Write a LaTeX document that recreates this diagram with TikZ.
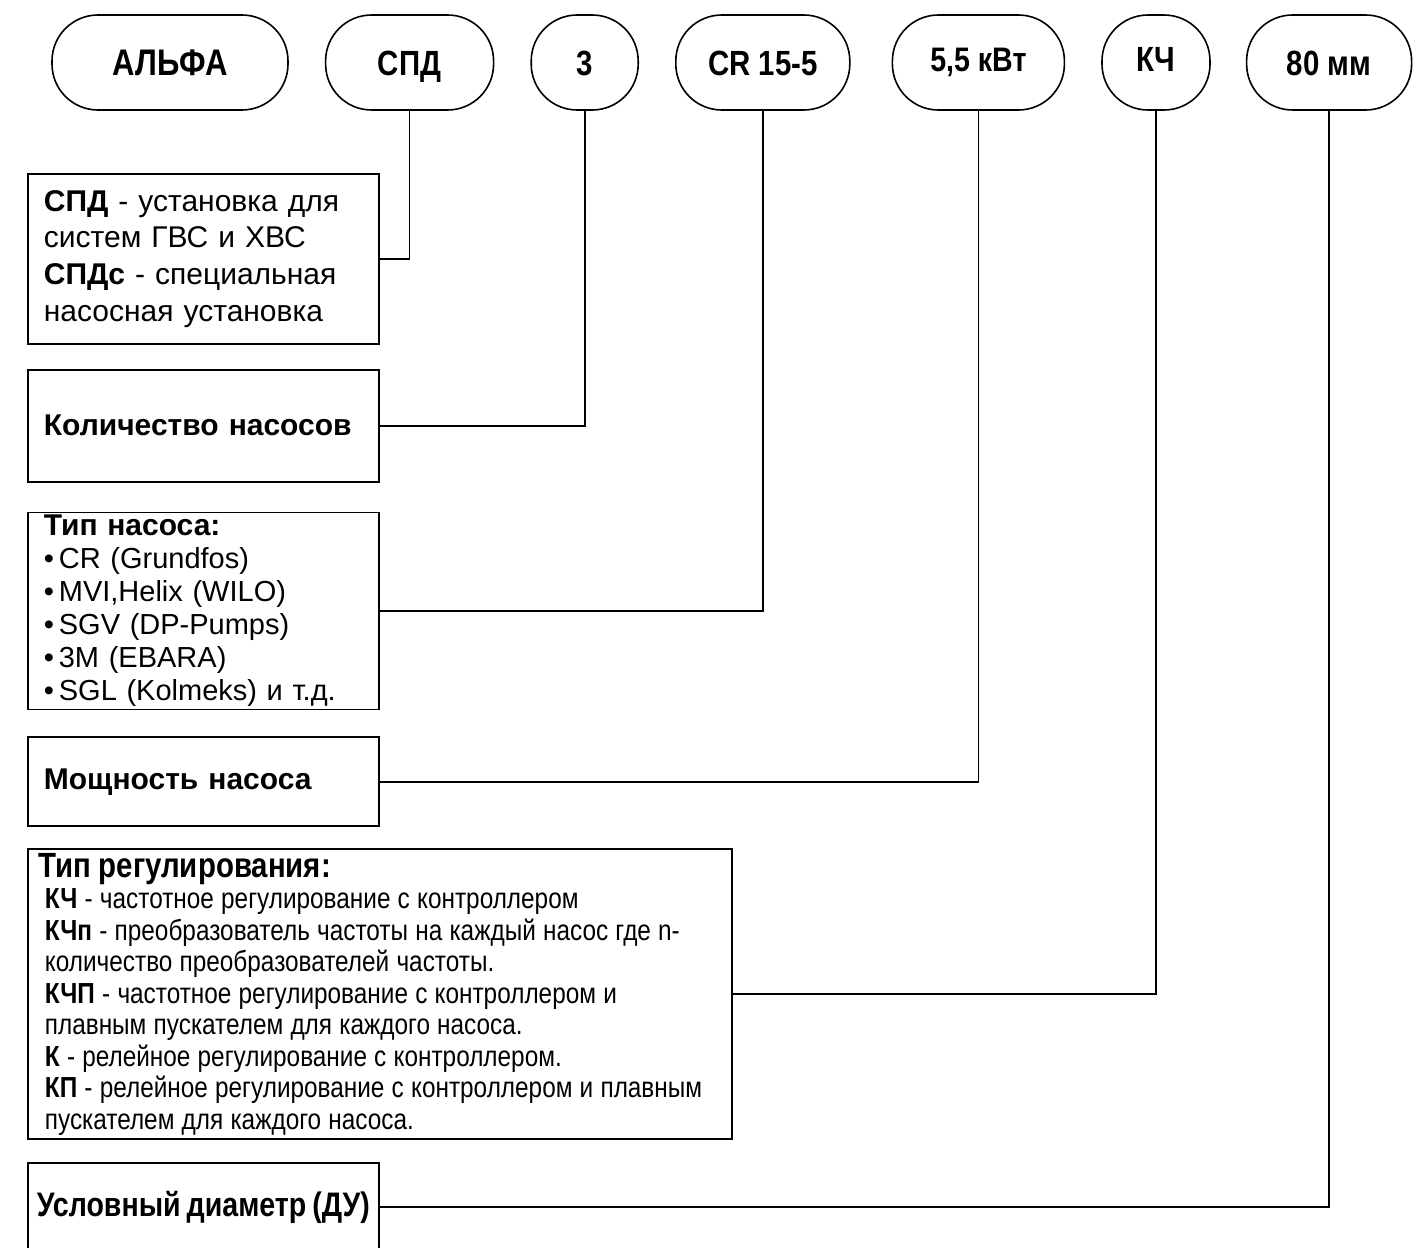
\documentclass[tikz,border=0pt]{standalone}
\usepackage{fontspec}
\setmainfont{Liberation Sans}
\newfontfamily\narrowfont[FakeStretch=0.84]{Liberation Sans}
\newcommand\regspace{\spaceskip=3.6pt plus 1pt minus 0.5pt\relax}
\newcommand\duspace{\spaceskip=3pt\relax}
\usetikzlibrary{positioning}

\begin{document}
\begin{tikzpicture}[
    x=0.5pt, y=-0.5pt,
    node distance=18pt and 18pt,
    oval/.style={draw, line width=0.8pt, rounded corners=23pt, minimum height=47.5pt,
                 inner sep=0pt, text height=12.6pt, text depth=0pt,
                 font=\narrowfont\bfseries\fontsize{17.5pt}{20pt}\selectfont},
    desc/.style={draw, line width=0.9pt, text width=159.5pt, inner xsep=8pt, align=left,
                 font=\fontsize{15pt}{18.3pt}\selectfont},
    head/.style={desc, font=\bfseries\fontsize{15pt}{18pt}\selectfont},
    link/.style={line width=0.8pt}]
\useasboundingbox (0,0) rectangle (1422,1247);
% top row of code parts
\node[oval, minimum width=118pt, font=\narrowfont\bfseries\fontsize{18.5pt}{20pt}\selectfont] (alfa) at (170,62.5) {АЛЬФА};
\node[oval, minimum width=84pt, right=of alfa] (spd) {СПД};
\node[oval, minimum width=53.5pt, right=of spd] (n) {3};
\node[oval, minimum width=87pt, right=of n] (cr) {CR 15-5};
\node[oval, minimum width=86pt, right=20.5pt of cr, text depth=4pt,
      font=\narrowfont\bfseries\fontsize{17pt}{18pt}\selectfont] (kw) {5,5 кВт};
\node[oval, minimum width=54pt, right=of kw, text depth=3.5pt] (kch) {КЧ};
\node[oval, minimum width=82.5pt, right=17.5pt of kch] (dn) {80 мм};
% explanation boxes
\node[desc, anchor=north west, minimum height=85pt] (spdbox) at (27,173)
  {\textbf{СПД} - установка для\\систем ГВС и ХВС\\\textbf{СПДс} - специальная\\насосная установка};
\node[head, below=12pt of spdbox.south west, anchor=north west, minimum height=56pt] (qty)
  {Количество насосов};
\node[desc, below=14.5pt of qty.south west, anchor=north west, minimum height=98.5pt,
      inner ysep=0pt, font=\fontsize{14.5pt}{16.5pt}\selectfont] (pump)
  {{\bfseries\fontsize{15pt}{16.5pt}\selectfont Тип насоса:}\\
   •\,CR (Grundfos)\\•\,MVI,Helix (WILO)\\•\,SGV (DP-Pumps)\\•\,3M (EBARA)\\•\,SGL (Kolmeks) и т.д.};
\node[head, below=13pt of pump.south west, anchor=north west, minimum height=44.5pt] (pow)
  {Мощность насоса};
\node[desc, below=10.5pt of pow.south west, anchor=north west, minimum height=145pt,
      text width=341pt, inner xsep=5.5pt, inner ysep=0pt,
      font=\narrowfont\fontsize{14.5pt}{15.75pt}\selectfont] (reg)
  {\regspace{\bfseries\fontsize{17.5pt}{15.75pt}\selectfont Тип регулирования:}\\
   \hspace*{3pt}\textbf{КЧ} - частотное регулирование с контроллером\\
   \hspace*{3pt}\textbf{КЧп} - преобразователь частоты на каждый насос где n-\\
   \hspace*{3pt}количество преобразователей частоты.\\
   \hspace*{3pt}\textbf{КЧП} - частотное регулирование с контроллером и\\
   \hspace*{3pt}плавным пускателем для каждого насоса.\\
   \hspace*{3pt}\textbf{К} - релейное регулирование с контроллером.\\
   \hspace*{3pt}\textbf{КП} - релейное регулирование с контроллером и плавным\\
   \hspace*{3pt}пускателем для каждого насоса.};
\node[draw, line width=0.9pt, below=11pt of reg.south west, anchor=north west,
      minimum width=175.5pt, minimum height=44pt, inner sep=0pt,
      font=\narrowfont\bfseries\fontsize{17pt}{19pt}\selectfont\duspace] (du)
  {Условный диаметр (ДУ)};
% leader lines
\draw[link] (spd.south) |- (spdbox.east);
\draw[link] (n.south) |- (qty.east);
\draw[link] (cr.south) |- (pump.east);
\draw[link] (kw.south) |- (pow.east);
\draw[link] (kch.south) |- (reg.east);
\draw[link] (dn.south) |- (du.east);
\end{tikzpicture}
\end{document}
